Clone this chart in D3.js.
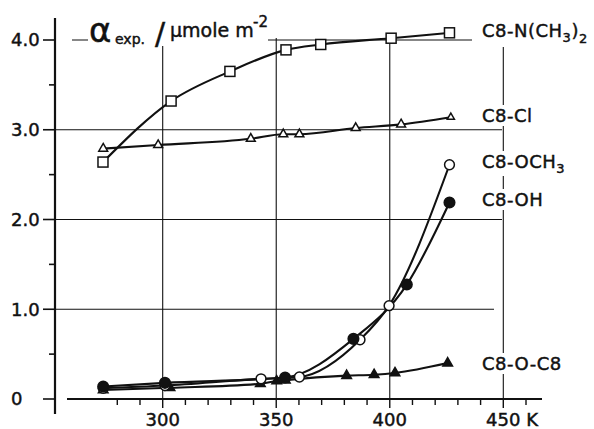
<!DOCTYPE html>
<html>
<head>
<meta charset="utf-8">
<script src="https://cdn.jsdelivr.net/npm/d3@7"></script>
<style>
  body { margin: 0; background: #fff; }
  text { font-family: "DejaVu Sans", sans-serif; fill: #111; stroke: #111; stroke-width: 0.45px; }
</style>
</head>
<body>
<svg id="chart" width="594" height="429"></svg>
<script>
// temperatures (K) and alpha values (umole m^-2)
const nme2T = [273.7, 303.7, 329.6, 354.3, 369.6, 400.6, 426.3];
const nme2V = [2.64, 3.32, 3.65, 3.89, 3.95, 4.02, 4.08];

const clT = [273.8, 298, 338.8, 353.1, 360.2, 385, 405, 426.9];
const clV = [2.79, 2.83, 2.90, 2.95, 2.95, 3.02, 3.06, 3.14];

const och3T = [273.8, 301, 343.3, 360.2, 386.9, 399.7, 426.3];
const och3V = [0.12, 0.15, 0.225, 0.245, 0.66, 1.04, 2.61];

const ohT = [273.8, 301, 353.9, 384, 407.5, 426.3];
const ohV = [0.14, 0.18, 0.24, 0.67, 1.275, 2.19];

const ococT = [273.8, 303.2, 343, 350.2, 354, 381, 393.1, 402.3, 425.5];
const ococV = [0.10, 0.125, 0.17, 0.20, 0.21, 0.26, 0.27, 0.29, 0.40];

const xTickLabels = [300, 350, 400, 450];
const xMinorTicks = d3.range(280, 461, 10);
const yTickLabels = [0, 1, 2, 3, 4];
const yMinorTicks = [0.5, 1.5, 2.5, 3.5];

const svg = d3.select("#chart");
svg.append("rect").attr("width", 594).attr("height", 429).attr("fill", "#fff");

const x = d3.scaleLinear().domain([300, 450]).range([162.7, 503.3]);
const y = d3.scaleLinear().domain([0, 4]).range([399, 40]);

const ink = "#111";

// grid lines
const grid = svg.append("g").attr("stroke", ink).attr("stroke-width", 1.1);
const hGrid = [
    {v: 1, x0: 55, x1: 494},
    {v: 2, x0: 55, x1: 502},
    {v: 3, x0: 55, x1: 502},
    {v: 4, x0: 72, x1: 472}
];
hGrid.forEach(d => {
    grid.append("line")
        .attr("x1", d.x0).attr("x2", d.x1)
        .attr("y1", y(d.v)).attr("y2", y(d.v));
});
xTickLabels.forEach(v => {
    grid.append("line")
        .attr("x1", x(v)).attr("x2", x(v))
        .attr("y1", v === 450 ? 47 : y(4) - 2).attr("y2", y(0));
});

// y axis
const axes = svg.append("g").attr("stroke", ink);
axes.append("line").attr("x1", 55).attr("x2", 55).attr("y1", 18).attr("y2", 414)
    .attr("stroke-width", 2.2);
yTickLabels.forEach(v => {
    axes.append("line").attr("x1", 43).attr("x2", 55).attr("y1", y(v)).attr("y2", y(v))
        .attr("stroke-width", 1.6);
});
yMinorTicks.forEach(v => {
    axes.append("line").attr("x1", 49).attr("x2", 55).attr("y1", y(v)).attr("y2", y(v))
        .attr("stroke-width", 1.6);
});

// x axis
axes.append("line").attr("x1", 67).attr("x2", 542).attr("y1", y(0)).attr("y2", y(0))
    .attr("stroke-width", 2.2);
xMinorTicks.forEach(v => {
    const major = xTickLabels.includes(v);
    axes.append("line").attr("x1", x(v)).attr("x2", x(v))
        .attr("y1", y(0)).attr("y2", y(0) + (major ? 9 : 6))
        .attr("stroke-width", 1.4);
});

// tick labels
svg.selectAll(".ylab").data(yTickLabels).enter().append("text")
    .attr("class", "ylab")
    .attr("x", 11)
    .attr("y", d => y(d))
    .attr("dy", "0.36em")
    .style("font-size", "18px")
    .text(d => d === 0 ? "0" : d.toFixed(1));

xTickLabels.forEach((v, i) => {
    const t = svg.append("text").attr("y", 426).style("font-size", "18px");
    const num = t.append("tspan").text(v);
    if (i === xTickLabels.length - 1) t.append("tspan").text(" K");
    t.attr("x", x(v) - num.node().getComputedTextLength() / 2);
});

// lines
const line = d3.line().x(d => x(d[0])).y(d => y(d[1])).curve(d3.curveMonotoneX);
const zip = (a, b) => a.map((t, i) => [t, b[i]]);
[[nme2T, nme2V], [clT, clV], [och3T, och3V], [ohT, ohV], [ococT, ococV]].forEach(s => {
    svg.append("path")
        .attr("d", line(zip(s[0], s[1])))
        .attr("fill", "none")
        .attr("stroke", ink)
        .attr("stroke-width", 2.1);
});

// markers
const tri = d3.symbol().type(d3.symbolTriangle);
function drawMarkers(data, kind, filled) {
    const g = svg.append("g")
        .attr("fill", filled ? ink : "#fff")
        .attr("stroke", ink)
        .attr("stroke-width", 1.5);
    data.forEach((d, i) => {
        const cx = x(d[0]), cy = y(d[1]);
        if (kind === "square") {
            g.append("rect").attr("x", cx - 5).attr("y", cy - 5)
                .attr("width", 10).attr("height", 10);
        } else if (kind === "circle") {
            g.append("circle").attr("cx", cx).attr("cy", cy).attr("r", filled ? 5.3 : 4.9);
        } else {
            const size = (!filled && i === data.length - 1) ? 22 : (filled ? 40 : 34);
            g.append("path").attr("d", tri.size(size)())
                .attr("transform", `translate(${cx},${cy})`);
        }
    });
}
drawMarkers(zip(nme2T, nme2V), "square", false);
drawMarkers(zip(clT, clV), "triangle", false);
drawMarkers(zip(ococT, ococV), "triangle", true);
drawMarkers(zip(och3T, och3V), "circle", false);
drawMarkers(zip(ohT, ohV), "circle", true);

// y axis title with white knockout
const titleG = svg.append("g");
titleG.append("rect").attr("x", 88).attr("y", 10).attr("width", 180).attr("height", 36).attr("fill", "#fff");
titleG.append("text").attr("x", 89).attr("y", 42).style("font-size", "34px").text("α");
titleG.append("text").attr("x", 115).attr("y", 44).style("font-size", "14px").text("exp.");
titleG.append("text").attr("x", 155).attr("y", 44).style("font-size", "30px").text("/");
titleG.append("text").attr("x", 170).attr("y", 37).style("font-size", "19px").text("μmole m");
titleG.append("text").attr("x", 253).attr("y", 27).style("font-size", "15px").text("-2");

// series labels, with white knockout over the grid
const seriesLabels = [
    {parts: [["C8-N(CH", 0], ["3", 5], [")", 0], ["2", 6]], yb: 37},
    {parts: [["C8-Cl", 0]], yb: 122},
    {parts: [["C8-OCH", 0], ["3", 5]], yb: 168},
    {parts: [["C8-OH", 0]], yb: 206},
    {parts: [["C8-O-C8", 0]], yb: 370}
];
seriesLabels.forEach(l => {
    const g = svg.append("g");
    const bg = g.append("rect").attr("fill", "#fff");
    const t = g.append("text").attr("x", 482).attr("y", l.yb)
        .style("font-size", "18px").style("letter-spacing", "0.5px");
    l.parts.forEach((p, i) => {
        const prev = i > 0 ? l.parts[i - 1][1] : 0;
        const ts = t.append("tspan").text(p[0]);
        if (p[1] !== 0) ts.style("font-size", "13px");
        if (p[1] - prev !== 0) ts.attr("dy", p[1] - prev);
    });
    const b = t.node().getBBox();
    bg.attr("x", b.x - 2).attr("y", b.y).attr("width", b.width + 4).attr("height", b.height);
});
</script>
</body>
</html>
